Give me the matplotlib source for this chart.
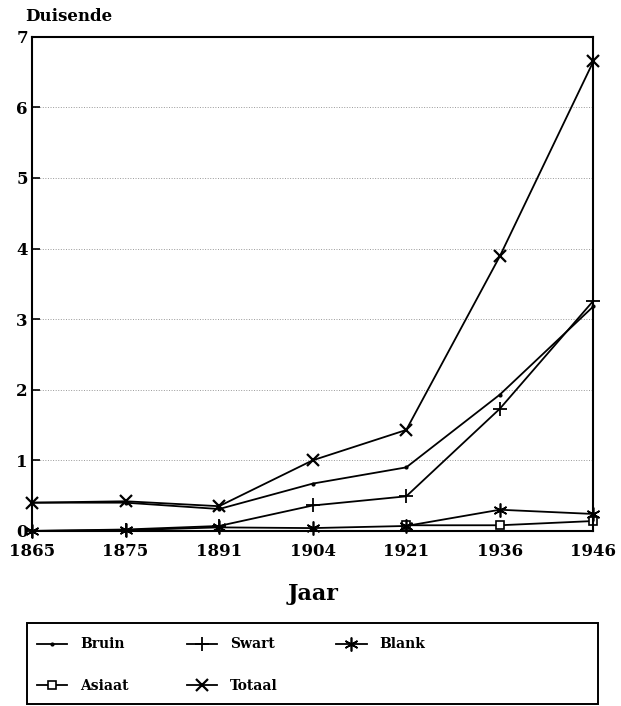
import matplotlib.pyplot as plt
from matplotlib.patches import Rectangle
import numpy as np

# bevolking (duisende) per sensusjaar
jare = ['1865', '1875', '1891', '1904', '1921', '1936', '1946']
bruin = [0.40, 0.40, 0.31, 0.67, 0.90, 1.93, 3.18]
swart = [0.00, 0.02, 0.07, 0.36, 0.49, 1.73, 3.26]
blank = [0.00, 0.01, 0.05, 0.04, 0.07, 0.30, 0.24]
asiaat = [np.nan, np.nan, np.nan, np.nan, 0.08, 0.08, 0.14]
totaal = [0.40, 0.42, 0.35, 1.00, 1.43, 3.89, 6.65]

plt.rcParams['font.family'] = ['DejaVu Serif']
plt.rcParams['font.weight'] = 'bold'

fig = plt.figure(figsize=(6.21, 7.06), dpi=100)
ax = fig.add_axes([0.0515, 0.248, 0.904, 0.700])

x = np.arange(len(jare))
kw = dict(color='black', lw=1.3, clip_on=False)
ax.plot(x, bruin, marker='.', ms=4, label='Bruin', **kw)
ax.plot(x, asiaat, marker='s', ms=6, mfc='white', mew=1.2, label='Asiaat', **kw)
ax.plot(x, swart, marker='+', ms=10, mew=1.3, label='Swart', **kw)
ax.plot(x, totaal, marker='x', ms=8, mew=1.6, label='Totaal', **kw)
ax.plot(x, blank, marker=(6, 2, 0), ms=10, mew=1.2, label='Blank', **kw)

ax.set_xlim(0, len(jare) - 1)
ax.set_ylim(0, 7)
ax.set_xticks(x)
ax.set_xticklabels(jare)
ax.set_yticks(range(8))
ax.tick_params(axis='x', length=0, pad=9, labelsize=12)
ax.tick_params(axis='y', direction='in', length=6, width=1.2, pad=3, labelsize=12)
ax.yaxis.grid(True, linestyle=':', color='0.6', lw=0.7)
for s in ax.spines.values():
    s.set_linewidth(1.5)

ax.set_xlabel('Jaar', fontsize=16, fontweight='bold', labelpad=16)
fig.text(0.04, 0.965, 'Duisende', fontsize=12, fontweight='bold', va='bottom')

# legend box
fig.patches.append(Rectangle((0.043, 0.003), 0.92, 0.115, transform=fig.transFigure,
                             fill=False, edgecolor='black', lw=1.4))
h, l = ax.get_legend_handles_labels()
leg = fig.legend(h, l, loc='upper left', bbox_to_anchor=(0.055, 0.101), ncol=3, frameon=False,
                 prop={'family': 'DejaVu Serif', 'weight': 'bold', 'size': 10},
                 handlelength=2.2, handletextpad=0.9, columnspacing=4.2,
                 borderaxespad=0, borderpad=0.2, labelspacing=2.0)

fig.savefig('out.png', dpi=100)
